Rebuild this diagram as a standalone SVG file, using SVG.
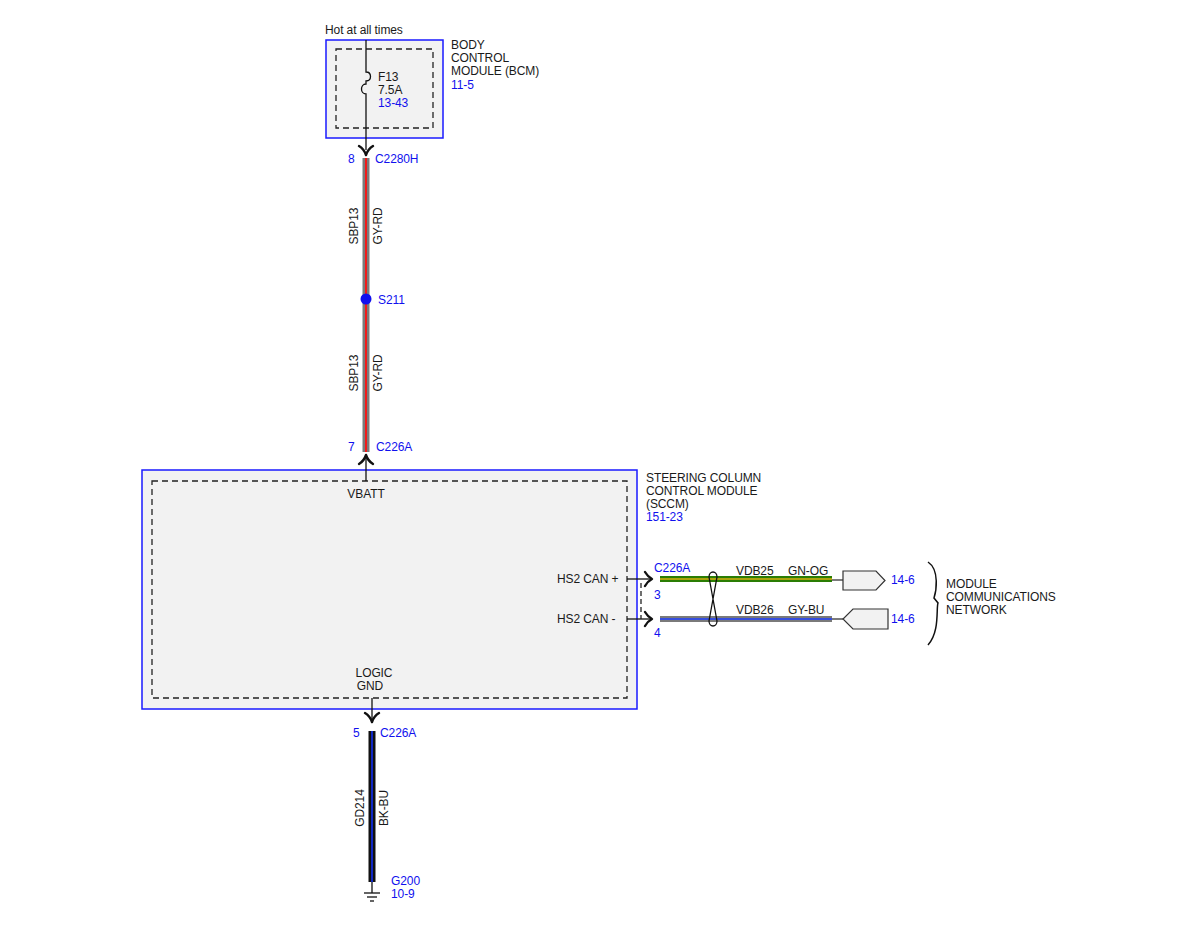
<svg xmlns="http://www.w3.org/2000/svg" width="1200" height="927" viewBox="0 0 1200 927">
<style>
text{font-family:"Liberation Sans",Arial,sans-serif;font-size:12px;fill:#1a1a1a;letter-spacing:-0.1px}
.b{fill:#1010ee}
.mod{fill:#f2f2f2;stroke:#1a1aff;stroke-width:1.5}
.dash{fill:none;stroke:#222;stroke-width:1.3;stroke-dasharray:6,4}
.ln{fill:none;stroke:#111;stroke-width:1.3}
.arr{fill:none;stroke:#111;stroke-width:2.4;stroke-linecap:round;stroke-linejoin:round}
.plug{fill:#f2f2f2;stroke:#333;stroke-width:1.2}
</style>
<rect width="1200" height="927" fill="#fff"/>

<g id="bcm">
<rect class="mod" x="326" y="40" width="117" height="98"/>
<rect class="dash" x="336" y="49" width="97" height="79"/>
<text x="325" y="34">Hot at all times</text>
<path class="ln" d="M366,40 V72 C372,72 372,81 366,81 V84 C360,84 360,94 366,94 V150"/>
<text x="378" y="81">F13</text>
<text x="378" y="94">7.5A</text>
<text class="b" x="378" y="107">13-43</text>
<text x="451" y="49">BODY</text>
<text x="451" y="62">CONTROL</text>
<text x="451" y="75">MODULE (BCM)</text>
<text class="b" x="451" y="89">11-5</text>
</g>

<g id="sccm">
<rect class="mod" x="142" y="470" width="495" height="239"/>
<rect class="dash" x="152" y="481" width="475" height="217"/>
<text x="366" y="498" text-anchor="middle">VBATT</text>
<text x="374" y="677" text-anchor="middle">LOGIC</text>
<text x="370" y="690" text-anchor="middle">GND</text>
<text x="557" y="583">HS2 CAN +</text>
<text x="557" y="623">HS2 CAN -</text>
<text x="646" y="482">STEERING COLUMN</text>
<text x="646" y="495">CONTROL MODULE</text>
<text x="646" y="508">(SCCM)</text>
<text class="b" x="646" y="521">151-23</text>
</g>

<g id="connectors">
<!-- C2280H pin 8 -->
<path class="arr" d="M359,146 Q364,149 366,155 Q368,149 373,146"/>
<text class="b" x="348" y="163">8</text>
<text class="b" x="375" y="163">C2280H</text>
<!-- wire SBP13 -->
<line x1="366" y1="158" x2="366" y2="452" stroke="#7a7a7a" stroke-width="7"/>
<line x1="366" y1="158" x2="366" y2="452" stroke="#ff1010" stroke-width="1.8"/>
<text transform="translate(358,226) rotate(-90)" text-anchor="middle">SBP13</text>
<text transform="translate(382,226) rotate(-90)" text-anchor="middle">GY-RD</text>
<text transform="translate(358,373) rotate(-90)" text-anchor="middle">SBP13</text>
<text transform="translate(382,373) rotate(-90)" text-anchor="middle">GY-RD</text>
<!-- splice -->
<g id="s211">
<circle cx="366" cy="299" r="5.5" fill="#1010ee"/>
<text class="b" x="378" y="304">S211</text>
</g>
<!-- C226A pin 7 -->
<text class="b" x="348" y="451">7</text>
<text class="b" x="376" y="451">C226A</text>
<path class="arr" d="M359,464 Q364,461 366,455 Q368,461 373,464"/>
<line class="ln" x1="366" y1="456" x2="366" y2="481"/>

<!-- CAN -->
<line class="ln" x1="627" y1="579" x2="651" y2="579"/>
<line class="ln" x1="627" y1="619" x2="651" y2="619"/>
<path class="arr" d="M645,572 Q648,577 652,579 Q648,581 645,586"/>
<path class="arr" d="M645,612 Q648,617 652,619 Q648,621 645,626"/>
<line x1="641" y1="583" x2="641" y2="619" stroke="#222" stroke-width="1.3" stroke-dasharray="5,3"/>
<text class="b" x="654" y="572">C226A</text>
<text class="b" x="654" y="599">3</text>
<text class="b" x="654" y="637">4</text>
<line x1="660" y1="579" x2="832" y2="579" stroke="#2a7d04" stroke-width="6"/>
<line x1="660" y1="579" x2="832" y2="579" stroke="#d8b010" stroke-width="1.5"/>
<line x1="660" y1="619" x2="832" y2="619" stroke="#7a7a7a" stroke-width="6"/>
<line x1="660" y1="619" x2="832" y2="619" stroke="#2040ff" stroke-width="1.5"/>
<path d="M709,577 A4,5 0 0 1 717,577 L709,621 A4,5 0 0 0 717,621 Z" fill="none" stroke="#111" stroke-width="1.3"/>
<text x="736" y="575">VDB25</text>
<text x="788" y="575">GN-OG</text>
<text x="736" y="614">VDB26</text>
<text x="788" y="614">GY-BU</text>
<line x1="832" y1="580" x2="843" y2="580" stroke="#333" stroke-width="1.3"/>
<line x1="832" y1="619" x2="843" y2="619" stroke="#333" stroke-width="1.3"/>

<!-- GND -->
<line class="ln" x1="372" y1="698" x2="372" y2="723"/>
<path class="arr" d="M365,713 Q370,716 372,722 Q374,716 379,713"/>
<text class="b" x="353" y="737">5</text>
<text class="b" x="380" y="737">C226A</text>
<line x1="372" y1="731" x2="372" y2="882" stroke="#111" stroke-width="7"/>
<line x1="372" y1="731" x2="372" y2="882" stroke="#1030ff" stroke-width="1.5"/>
<text transform="translate(364,808) rotate(-90)" text-anchor="middle">GD214</text>
<text transform="translate(388,808) rotate(-90)" text-anchor="middle">BK-BU</text>
</g>

<g id="plug1">
<path class="plug" d="M843,571 H876 L885,580.5 L876,590 H843 Z"/>
<text class="b" x="891" y="584">14-6</text>
</g>
<g id="plug2">
<path class="plug" d="M888,609 V629 H853 L843,619 L853,609 Z"/>
<text class="b" x="891" y="623">14-6</text>
</g>

<g id="network">
<path d="M928,562 C940,570 936,592 934,598 L938,603 C936,608 940,632 928,645" fill="none" stroke="#111" stroke-width="1.5"/>
<text x="946" y="588">MODULE</text>
<text x="946" y="601">COMMUNICATIONS</text>
<text x="946" y="614">NETWORK</text>
</g>

<g id="g200">
<line class="ln" x1="372" y1="882" x2="372" y2="893"/>
<line class="ln" x1="364" y1="893" x2="380" y2="893"/>
<line class="ln" x1="367" y1="897" x2="377" y2="897"/>
<line class="ln" x1="370" y1="901" x2="374" y2="901"/>
<text class="b" x="391" y="885">G200</text>
<text class="b" x="391" y="898">10-9</text>
</g>
</svg>
